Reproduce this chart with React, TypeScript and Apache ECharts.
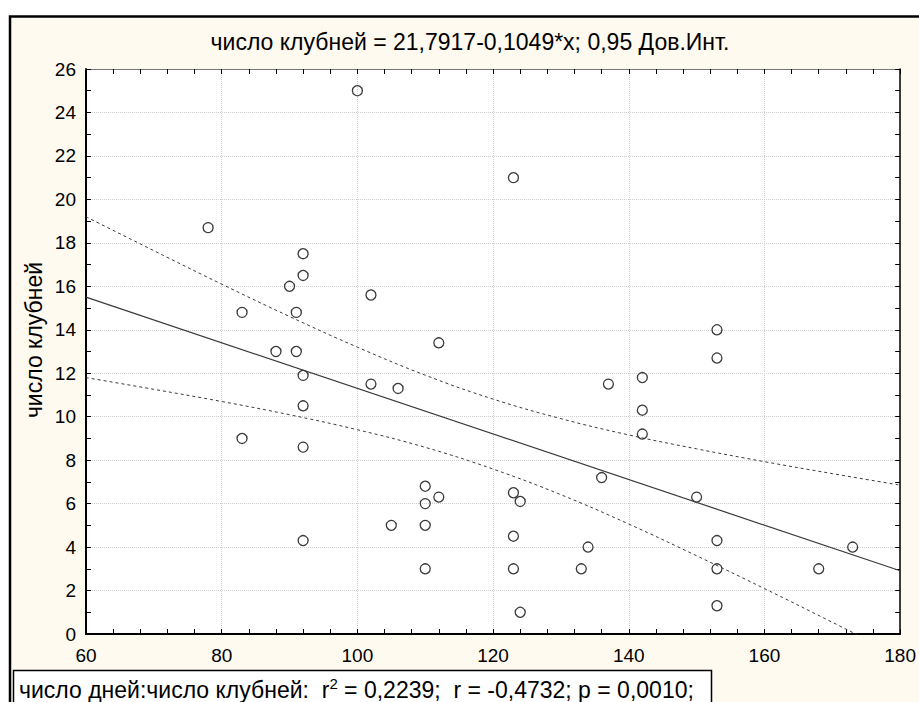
import React, { useEffect, useRef } from "react";
import * as echarts from "echarts";

const titleText = "число клубней = 21,7917-0,1049*x; 0,95 Дов.Инт.";
const yAxisName = "число клубней";
const xTicks = [60, 80, 100, 120, 140, 160, 180];
const yTicks = [0, 2, 4, 6, 8, 10, 12, 14, 16, 18, 20, 22, 24, 26];

// observed points: число дней (x), число клубней (y)
const daysX = [78, 83, 83, 88, 90, 91, 91, 92, 92, 92, 92, 92, 92, 100, 102, 102, 106, 105, 110, 110, 110, 110, 112, 112, 123, 123, 123, 123, 124, 124, 133, 134, 136, 137, 142, 142, 142, 150, 153, 153, 153, 153, 153, 168, 173];
const tubersY = [18.7, 14.8, 9, 13, 16, 14.8, 13, 17.5, 16.5, 11.9, 10.5, 8.6, 4.3, 25, 15.6, 11.5, 11.3, 5, 6.8, 6, 5, 3, 13.4, 6.3, 21, 6.5, 4.5, 3, 6.1, 1, 3, 4, 7.2, 11.5, 11.8, 10.3, 9.2, 6.3, 14, 12.7, 4.3, 3, 1.3, 3, 4];

// regression line end points (from the equation in the title)
const fitX = [60, 180];
const fitY = [15.5, 2.91];

// 0.95 confidence band
const bandX = [60, 70, 80, 90, 100, 110, 120, 130, 140, 150, 160, 170, 180];
const bandUpper = [19.2, 17.64, 16.1, 14.61, 13.2, 11.91, 10.81, 9.91, 9.16, 8.52, 7.93, 7.38, 6.85];
const bandLower = [11.8, 11.26, 10.7, 10.09, 9.4, 8.59, 7.59, 6.41, 5.06, 3.6, 2.09, 0.54, -1.03];

const statsText = "число дней:число клубней:  r{sup|2} = 0,2239;  r = -0,4732; p = 0,0010;";

const FONT = "Arial, 'Liberation Sans', sans-serif";
const INK = "#3a3a3a";

export default function App() {
  const ref = useRef<HTMLDivElement>(null);
  useEffect(() => {
    if (!ref.current) return;
    const chart = echarts.init(ref.current, undefined, { renderer: "svg" });
    const pts = daysX.map((x, i) => [x, tubersY[i]]);
    const fit = fitX.map((x, i) => [x, fitY[i]]);
    const up = bandX.map((x, i) => [x, bandUpper[i]]);
    const lo = bandX.map((x, i) => [x, bandLower[i]]);
    const xMin = xTicks[0];
    const xMax = xTicks[xTicks.length - 1];
    const yMin = yTicks[0];
    const yMax = yTicks[yTicks.length - 1];
    chart.setOption({
      animation: false,
      backgroundColor: "#ffffff",
      textStyle: { fontFamily: FONT },
      graphic: [
        {
          type: "rect",
          z: -10,
          shape: { x: 10, y: 16.5, width: 940, height: 720 },
          style: { fill: "#fffaf0", stroke: "#000", lineWidth: 2.5 },
          silent: true,
        },
        {
          type: "rect",
          z: 5,
          shape: { x: 13.5, y: 670.5, width: 698, height: 60 },
          style: { fill: "#ffffff", stroke: "#000", lineWidth: 1.5 },
          silent: true,
        },
        {
          type: "text",
          z: 6,
          x: 19,
          y: 690,
          style: {
            text: statsText,
            fontSize: 23,
            fontFamily: FONT,
            fill: "#000",
            verticalAlign: "middle",
            rich: {
              sup: { fontSize: 15, verticalAlign: "top", padding: [0, 0, 14, 0], fill: "#000", fontFamily: FONT },
            },
          },
        },
        {
          type: "text",
          z: 6,
          x: 470,
          y: 42,
          style: {
            text: titleText,
            fontSize: 23,
            fontFamily: FONT,
            fill: "#000",
            align: "center",
            verticalAlign: "middle",
          },
        },
        {
          type: "text",
          z: 6,
          x: 34,
          y: 340,
          rotation: Math.PI / 2,
          style: {
            text: yAxisName,
            fontSize: 23,
            fontFamily: FONT,
            fill: "#000",
            align: "center",
            verticalAlign: "middle",
          },
        },
      ],
      grid: {
        left: 86,
        top: 69,
        right: 17,
        bottom: 68,
        show: true,
        backgroundColor: "#ffffff",
        borderColor: "transparent",
      },
      xAxis: [
        {
          type: "value",
          position: "bottom",
          min: xMin,
          max: xMax,
          interval: 20,
          axisLine: { show: true, onZero: false, lineStyle: { color: "#000", width: 2 } },
          axisTick: { show: true, inside: true, length: 5, lineStyle: { color: "#000" } },
          minorTick: { show: true, splitNumber: 5, length: 5, lineStyle: { color: "#000" } },
          axisLabel: { color: "#000", fontSize: 19, margin: 12, fontFamily: FONT },
          splitLine: { show: true, lineStyle: { color: "#cfcfcf", type: [1, 1], width: 1 } },
        },
        {
          type: "value",
          position: "top",
          min: xMin,
          max: xMax,
          interval: 20,
          axisLine: { show: true, onZero: false, lineStyle: { color: "#777", width: 1 } },
          axisTick: { show: true, inside: true, length: 5, lineStyle: { color: "#000" } },
          minorTick: { show: true, splitNumber: 5, length: 5, lineStyle: { color: "#000" } },
          axisLabel: { show: false },
          splitLine: { show: false },
        },
      ],
      yAxis: [
        {
          type: "value",
          position: "left",
          min: yMin,
          max: yMax,
          interval: 2,
          axisLine: { show: true, onZero: false, lineStyle: { color: "#000", width: 2 } },
          axisTick: { show: true, inside: true, length: 5, lineStyle: { color: "#000" } },
          minorTick: { show: true, splitNumber: 2, length: 5, lineStyle: { color: "#000" } },
          axisLabel: { color: "#000", fontSize: 19, margin: 10, fontFamily: FONT },
          splitLine: { show: true, lineStyle: { color: "#cfcfcf", type: [1, 1], width: 1 } },
        },
        {
          type: "value",
          position: "right",
          min: yMin,
          max: yMax,
          interval: 2,
          axisLine: { show: true, onZero: false, lineStyle: { color: "#000", width: 1.5 } },
          axisTick: { show: true, inside: true, length: 5, lineStyle: { color: "#000" } },
          minorTick: { show: true, splitNumber: 2, length: 5, lineStyle: { color: "#000" } },
          axisLabel: { show: false },
          splitLine: { show: false },
        },
      ],
      series: [
        {
          type: "line",
          data: up,
          smooth: 0.4,
          symbol: "none",
          clip: true,
          lineStyle: { color: INK, width: 1, type: [3, 3] },
          z: 3,
        },
        {
          type: "line",
          data: lo,
          smooth: 0.4,
          symbol: "none",
          clip: true,
          lineStyle: { color: INK, width: 1, type: [3, 3] },
          z: 3,
        },
        {
          type: "line",
          data: fit,
          symbol: "none",
          clip: true,
          lineStyle: { color: INK, width: 1.2 },
          z: 3,
        },
        {
          type: "scatter",
          data: pts,
          symbol: "circle",
          symbolSize: 10,
          itemStyle: { color: "rgba(255,255,255,0)", borderColor: INK, borderWidth: 1.3, opacity: 1 },
          z: 4,
        },
      ],
    });
    return () => chart.dispose();
  }, []);
  return (
    <div
      ref={ref}
      style={{ position: "fixed", left: 0, top: 0, width: 919, height: 702 }}
    />
  );
}
